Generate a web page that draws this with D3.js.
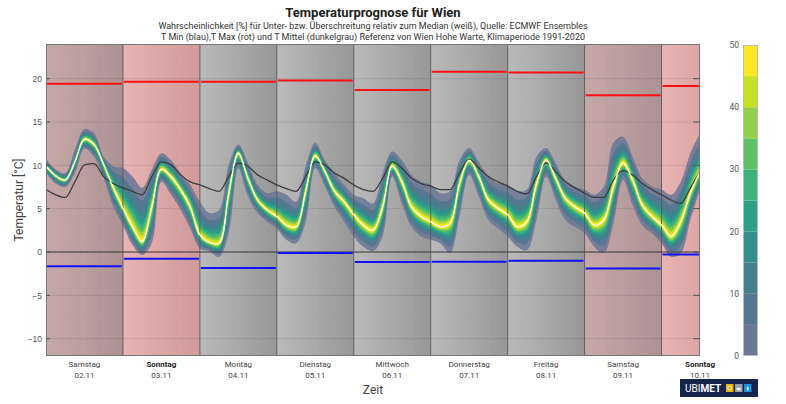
<!DOCTYPE html>
<html><head><meta charset="utf-8">
<script src="https://cdn.jsdelivr.net/npm/d3@7/dist/d3.min.js"></script>
<style>
body{margin:0;background:#fff;}
svg{display:block;font-family:Roboto,"Liberation Sans",sans-serif;}
</style></head><body>
<svg id="c" width="786" height="404"></svg>
<script>
// ---------- data ----------
const dayNames = ["Samstag","Sonntag","Montag","Dienstag","Mittwoch","Donnerstag","Freitag","Samstag","Sonntag"];
const dayDates = ["02.11","03.11","04.11","05.11","06.11","07.11","08.11","09.11","10.11"];
const dayTypes = ["sat","sun","wd","wd","wd","wd","wd","sat","sun"];
const tmaxRef = [19.4,19.65,19.65,19.8,18.7,20.8,20.7,18.1,19.15];
const tminRef = [-1.65,-0.77,-1.85,-0.12,-1.15,-1.12,-1.0,-1.9,-0.3];
const yTicks = [-10,-5,0,5,10,15,20];
const cbTicks = [0,10,20,30,40,50];
const stepHours = 3;
// ensemble median (white), 3-hourly from 02.11 00:00
const median = [9.9,8.8,8.3,10.4,13.0,12.4,10.1,7.4,5.05,2.9,1.2,5.2,9.55,8.7,7.2,5.2,2.0,1.1,1.0,6.8,11.4,8.5,6.0,4.85,4.1,3.1,2.9,7.0,11.1,9.3,7.0,5.8,4.3,3.1,2.5,5.2,9.9,8.1,5.2,4.1,3.5,2.9,3.3,7.9,10.6,8.7,6.0,5.05,4.3,2.9,3.5,7.9,10.6,8.5,6.2,5.2,4.5,3.1,3.7,7.55,10.25,8.3,5.4,4.1,3.1,1.8,3.5,6.8,9.3];
// outer envelope of the ensemble (0 % level)
const outerHi = [10.7,9.55,9.1,11.8,14.2,13.7,11.0,9.9,9.7,8.7,7.4,9.5,11.4,10.6,9.1,7.75,5.8,4.5,4.85,10.05,12.4,10.25,7.75,6.8,7.0,6.6,5.8,9.9,12.6,10.6,9.1,7.75,6.6,6.2,5.6,9.1,11.6,10.6,8.9,8.1,7.75,6.8,7.0,10.6,12.0,10.4,8.7,7.9,7.75,7.0,7.2,11.0,12.0,10.25,8.3,7.55,7.2,6.6,7.55,12.6,13.3,11.0,8.5,7.55,7.2,6.6,8.1,11.4,13.7];
const outerLo = [9.1,7.9,7.5,9.1,11.9,11.0,8.5,5.2,3.1,0.8,-0.35,1.0,8.1,6.6,4.85,2.7,0.4,0.05,-0.55,2.15,9.7,6.4,4.5,3.5,2.7,1.4,1.0,3.5,9.7,7.55,5.2,3.5,1.8,0.6,0.1,1.8,8.7,5.6,2.9,1.8,1.4,1.0,-0.15,4.1,8.9,6.4,3.7,2.7,1.8,0.6,0.2,3.7,8.7,6.0,3.7,2.9,2.15,0.6,-0.15,3.3,8.3,5.4,3.1,2.15,1.0,-0.55,-0.15,3.7,7.2];
// relative width of each probability level (0,5,...,45 %) inside the envelope
const levelFrac = [1.0,0.76,0.59,0.47,0.38,0.31,0.24,0.18,0.125,0.07];
const levelColors = ["#6a7795","#557791","#44808e","#33908b","#2ba287","#3cb37b","#5fc165","#93cf48","#c6e024","#fde725"];
// T Mittel reference (dark gray)
const tmean = [7.2,6.6,6.3,8.1,10.05,10.2,8.7,7.9,7.4,7.0,6.6,8.7,10.4,10.05,8.9,8.1,7.75,7.3,7.0,8.7,10.25,9.9,8.9,8.3,7.75,7.3,7.0,8.7,10.4,10.05,9.1,8.5,7.75,7.2,7.0,8.5,10.4,9.7,8.5,7.9,7.6,7.2,7.2,9.1,10.7,9.7,8.7,8.1,7.6,7.0,6.7,8.7,10.3,9.25,8.1,7.4,6.8,6.3,6.3,8.3,9.4,8.9,7.9,7.2,6.6,6.0,5.6,7.4,9.3];

// ---------- layout ----------
const L=46,R=700,T=44,B=356;
const svg = d3.select("#c");
const hours = d3.range(median.length).map(i=>i*stepHours);
const x = d3.scaleLinear().domain([0,204]).range([L,R]);
const y = d3.scaleLinear().domain([-12,24]).range([B,T]);
const dayX = i => x(i*24);

const defs = svg.append("defs");
const bgCols = {sat:["#c7a8a8","#ad9293"], sun:["#e8b3b3","#d19999"], wd:["#bababa","#979797"]};
Object.entries(bgCols).forEach(([k,c])=>{
  const g = defs.append("linearGradient").attr("id","g_"+k).attr("x1","0").attr("x2","1").attr("y1","0").attr("y2","0");
  g.append("stop").attr("offset","0").attr("stop-color",c[0]);
  g.append("stop").attr("offset","1").attr("stop-color",c[1]);
});
defs.append("clipPath").attr("id","clip").append("rect").attr("x",L).attr("y",T).attr("width",R-L).attr("height",B-T);

const plot = svg.append("g").attr("clip-path","url(#clip)");
// backgrounds
plot.selectAll("rect.bg").data(dayTypes).join("rect")
  .attr("x",(d,i)=>dayX(i)).attr("y",T).attr("width",x(24)-x(0)).attr("height",B-T)
  .attr("fill",d=>"url(#g_"+d+")");
// grid
plot.selectAll("line.hg").data(yTicks).join("line")
  .attr("x1",L).attr("x2",R).attr("y1",d=>y(d)).attr("y2",d=>y(d))
  .attr("stroke","#000").attr("stroke-opacity",0.09).attr("stroke-width",1);
const sub = [];
dayTypes.forEach((d,i)=>[6,12,18].forEach(h=>sub.push(i*24+h)));
plot.selectAll("line.vg").data(sub).join("line")
  .attr("x1",d=>x(d)).attr("x2",d=>x(d)).attr("y1",T).attr("y2",B)
  .attr("stroke","#fff").attr("stroke-opacity",0.12).attr("stroke-dasharray","1,2");

// ensemble bands
const curve = d3.curveCatmullRom.alpha(0.5);
levelFrac.forEach((f,k)=>{
  const area = d3.area().curve(curve)
    .x((d,i)=>x(hours[i]))
    .y0((d,i)=>y(median[i]-f*(median[i]-outerLo[i])))
    .y1((d,i)=>y(median[i]+f*(outerHi[i]-median[i])));
  plot.append("path").datum(median).attr("d",area).attr("fill",levelColors[k])
    .attr("fill-opacity",k===0?0.85:1);
});

// day separators
plot.selectAll("line.ds").data(d3.range(1,9)).join("line")
  .attr("x1",d=>dayX(d)).attr("x2",d=>dayX(d)).attr("y1",T).attr("y2",B)
  .attr("stroke","#5e5e5e").attr("stroke-width",1);
// zero line
plot.append("line").attr("x1",L).attr("x2",R).attr("y1",y(0)).attr("y2",y(0))
  .attr("stroke","#3c3c3c").attr("stroke-width",1);

// T Mittel
plot.append("path").datum(tmean)
  .attr("d",d3.line().curve(d3.curveMonotoneX).x((d,i)=>x(hours[i])).y(d=>y(d)))
  .attr("fill","none").attr("stroke","#3d3d3d").attr("stroke-width",1.3);
// median
plot.append("path").datum(median)
  .attr("d",d3.line().curve(curve).x((d,i)=>x(hours[i])).y(d=>y(d)))
  .attr("fill","none").attr("stroke","#ffffff").attr("stroke-width",1.2);

// reference T max / T min
plot.selectAll("line.tx").data(tmaxRef).join("line")
  .attr("x1",(d,i)=>dayX(i)+1).attr("x2",(d,i)=>dayX(i+1)-1).attr("y1",d=>y(d)).attr("y2",d=>y(d))
  .attr("stroke","#ff1010").attr("stroke-width",2);
plot.selectAll("line.tn").data(tminRef).join("line")
  .attr("x1",(d,i)=>dayX(i)+1).attr("x2",(d,i)=>dayX(i+1)-1).attr("y1",d=>y(d)).attr("y2",d=>y(d))
  .attr("stroke","#1010ff").attr("stroke-width",2);

// frame + ticks
svg.append("rect").attr("x",L+0.5).attr("y",T+0.5).attr("width",R-L-1).attr("height",B-T-1)
  .attr("fill","none").attr("stroke","#777");
const yAxis = svg.append("g").attr("transform",`translate(${L},0)`)
  .call(d3.axisLeft(y).tickValues(yTicks).tickSize(0).tickPadding(4).tickFormat(d3.format("d")));
yAxis.select(".domain").remove();
yAxis.selectAll("text").attr("fill","#555").attr("font-size","8.5px");
svg.selectAll("line.ytl").data(yTicks).join("line")
  .attr("x1",L).attr("x2",L+4).attr("y1",d=>y(d)).attr("y2",d=>y(d)).attr("stroke","#555");
svg.selectAll("line.ytr").data(yTicks).join("line")
  .attr("x1",R-7).attr("x2",R).attr("y1",d=>y(d)).attr("y2",d=>y(d)).attr("stroke","#555");

// x labels
const xl = svg.append("g");
xl.selectAll("text.dn").data(dayNames).join("text")
  .attr("x",(d,i)=>x(i*24+12)).attr("y",367).attr("text-anchor","middle")
  .attr("font-size","8px")
  .attr("font-weight",(d,i)=>dayTypes[i]==="sun"?"bold":"normal").attr("fill",(d,i)=>dayTypes[i]==="sun"?"#222":"#444")
  .text(d=>d);
xl.selectAll("text.dd").data(dayDates).join("text")
  .attr("x",(d,i)=>x(i*24+12)).attr("y",377.5).attr("text-anchor","middle")
  .attr("font-size","8px").attr("fill","#444").text(d=>d);
svg.append("text").attr("x",(L+R)/2).attr("y",394).attr("text-anchor","middle")
  .attr("font-size","12px").attr("fill","#444").text("Zeit");
svg.append("text").attr("transform",`translate(23,200) rotate(-90)`).attr("text-anchor","middle")
  .attr("font-size","12px").attr("fill","#444").text("Temperatur [°C]");

// titles
svg.append("text").attr("x",(L+R)/2).attr("y",17).attr("text-anchor","middle")
  .attr("font-size","13px").attr("font-weight","bold").attr("fill","#222").text("Temperaturprognose für Wien");
svg.append("text").attr("x",(L+R)/2).attr("y",29).attr("text-anchor","middle")
  .attr("font-size","9px").attr("fill","#333")
  .text("Wahrscheinlichkeit [%] für Unter- bzw. Überschreitung relativ zum Median (weiß), Quelle: ECMWF Ensembles");
svg.append("text").attr("x",(L+R)/2).attr("y",40).attr("text-anchor","middle")
  .attr("font-size","9px").attr("fill","#333")
  .text("T Min (blau),T Max (rot) und T Mittel (dunkelgrau) Referenz von Wien Hohe Warte, Klimaperiode 1991-2020");

// colorbar
const cbX=743, cbW=15;
const cy = d3.scaleLinear().domain([0,50]).range([356,45]);
svg.selectAll("rect.cb").data(levelColors).join("rect")
  .attr("x",cbX).attr("width",cbW).attr("y",(d,i)=>cy((i+1)*5)).attr("height",(d,i)=>cy(i*5)-cy((i+1)*5))
  .attr("fill",d=>d);
svg.append("rect").attr("x",cbX+0.5).attr("y",45.5).attr("width",cbW-1).attr("height",310)
  .attr("fill","none").attr("stroke","#bbb");
svg.selectAll("text.cbt").data(cbTicks).join("text")
  .attr("x",739).attr("y",d=>cy(d)+3).attr("text-anchor","end")
  .attr("font-size","8.5px").attr("fill","#555").text(d=>d);

// logo
const lg = svg.append("g");
lg.append("rect").attr("x",680).attr("y",379).attr("width",78).attr("height",18).attr("fill","#16264a");
const lt = lg.append("text").attr("x",685).attr("y",392).attr("font-size","10px").attr("fill","#fff");
lt.append("tspan").text("UBI");
lt.append("tspan").attr("font-weight","bold").text("MET");
[["#f2b705",726],["#9aa0a8",735],["#1e90e0",744]].forEach(([c,px])=>{
  lg.append("rect").attr("x",px).attr("y",384).attr("width",7.5).attr("height",8).attr("fill",c);
});
lg.append("circle").attr("cx",729.7).attr("cy",388).attr("r",2).attr("fill","none").attr("stroke","#fff").attr("stroke-width",0.8);
lg.append("ellipse").attr("cx",738.7).attr("cy",389).attr("rx",2.6).attr("ry",1.5).attr("fill","#e8e8e8");
lg.append("path").attr("d","M747.7,386 Q749.8,389.2 747.7,390.8 Q745.6,389.2 747.7,386Z").attr("fill","#fff");
</script>
</body></html>
